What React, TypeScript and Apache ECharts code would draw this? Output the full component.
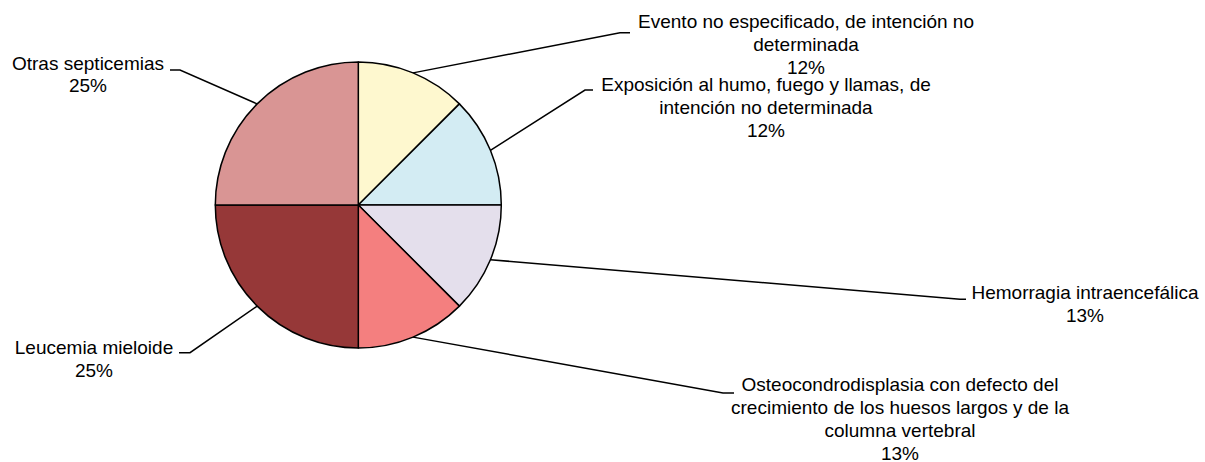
import React, { useEffect, useRef } from "react";
import * as echarts from "echarts";

const categories = [
  "Evento no especificado, de intención no determinada",
  "Exposición al humo, fuego y llamas, de intención no determinada",
  "Hemorragia intraencefálica",
  "Osteocondrodisplasia con defecto del crecimiento de los huesos largos y de la columna vertebral",
  "Leucemia mieloide",
  "Otras septicemias",
];
const labelLines = [
  "Evento no especificado, de intención no\ndeterminada",
  "Exposición al humo, fuego y llamas, de\nintención no determinada",
  "Hemorragia intraencefálica",
  "Osteocondrodisplasia con defecto del\ncrecimiento de los huesos largos y de la\ncolumna vertebral",
  "Leucemia mieloide",
  "Otras septicemias",
];
const values = [1, 1, 1, 1, 2, 2];
const percentLabels = ["12%", "12%", "13%", "13%", "25%", "25%"];
const colors = ["#FEF8CF", "#D3ECF3", "#E4DFEC", "#F47F7F", "#963838", "#D99594"];

// label placement: [textCenterX, textTopY, elbowX, elbowY, endX, endY]
const labelPlacement = [
  [806, 10.5, 620, 32.7, 630, 32.7],
  [766, 73.5, 585, 90, 593, 90],
  [1085, 281.5, 960, 299.3, 966, 299.3],
  [900, 373.3, 723, 393, 734, 393],
  [94, 336.5, 190, 352.7, 179, 352.7],
  [88, 51.8, 180, 70, 170, 70],
];

export default function App() {
  const ref = useRef<HTMLDivElement>(null);
  useEffect(() => {
    if (!ref.current) return;
    const chart = echarts.init(ref.current, null, { renderer: "svg" });
    const cx = 358.3;
    const cy = 205;
    const r = 143;
    chart.setOption({
      animation: false,
      backgroundColor: "#ffffff",
      series: [
        {
          type: "pie",
          center: [cx, cy],
          radius: [0, r],
          startAngle: 90,
          clockwise: true,
          avoidLabelOverlap: false,
          data: categories.map((name, i) => ({
            name,
            value: values[i],
            itemStyle: { color: colors[i] },
          })),
          itemStyle: { borderColor: "#000000", borderWidth: 1.5 },
          emphasis: { disabled: true },
          label: {
            show: true,
            position: "outside",
            formatter: (p: any) => labelLines[p.dataIndex] + "\n" + percentLabels[p.dataIndex],
            fontFamily: "Liberation Sans, Arial, sans-serif",
            fontSize: 19,
            lineHeight: 22.8,
            color: "#000000",
            align: "center",
          },
          labelLine: {
            show: true,
            length: 20,
            length2: 10,
            lineStyle: { color: "#000000", width: 1.5 },
          },
          labelLayout: (params: any) => {
            const i = params.dataIndex;
            const pl = labelPlacement[i];
            const ang = Math.PI / 2 - (2 * Math.PI * (values.slice(0, i).reduce((a, b) => a + b, 0) + values[i] / 2)) / values.reduce((a, b) => a + b, 0);
            let start: number[] = [cx + r * Math.cos(ang), cy - r * Math.sin(ang)];
            if (params.labelLinePoints && params.labelLinePoints[0]) {
              start = params.labelLinePoints[0];
            }
            return {
              x: pl[0],
              y: pl[1],
              align: "center",
              verticalAlign: "top",
              labelLinePoints: [start, [pl[2], pl[3]], [pl[4], pl[5]]],
            };
          },
        },
      ],
    });
    return () => chart.dispose();
  }, []);
  return (
    <div
      ref={ref}
      style={{ position: "absolute", left: 0, top: 0, width: 1205, height: 462 }}
    />
  );
}
